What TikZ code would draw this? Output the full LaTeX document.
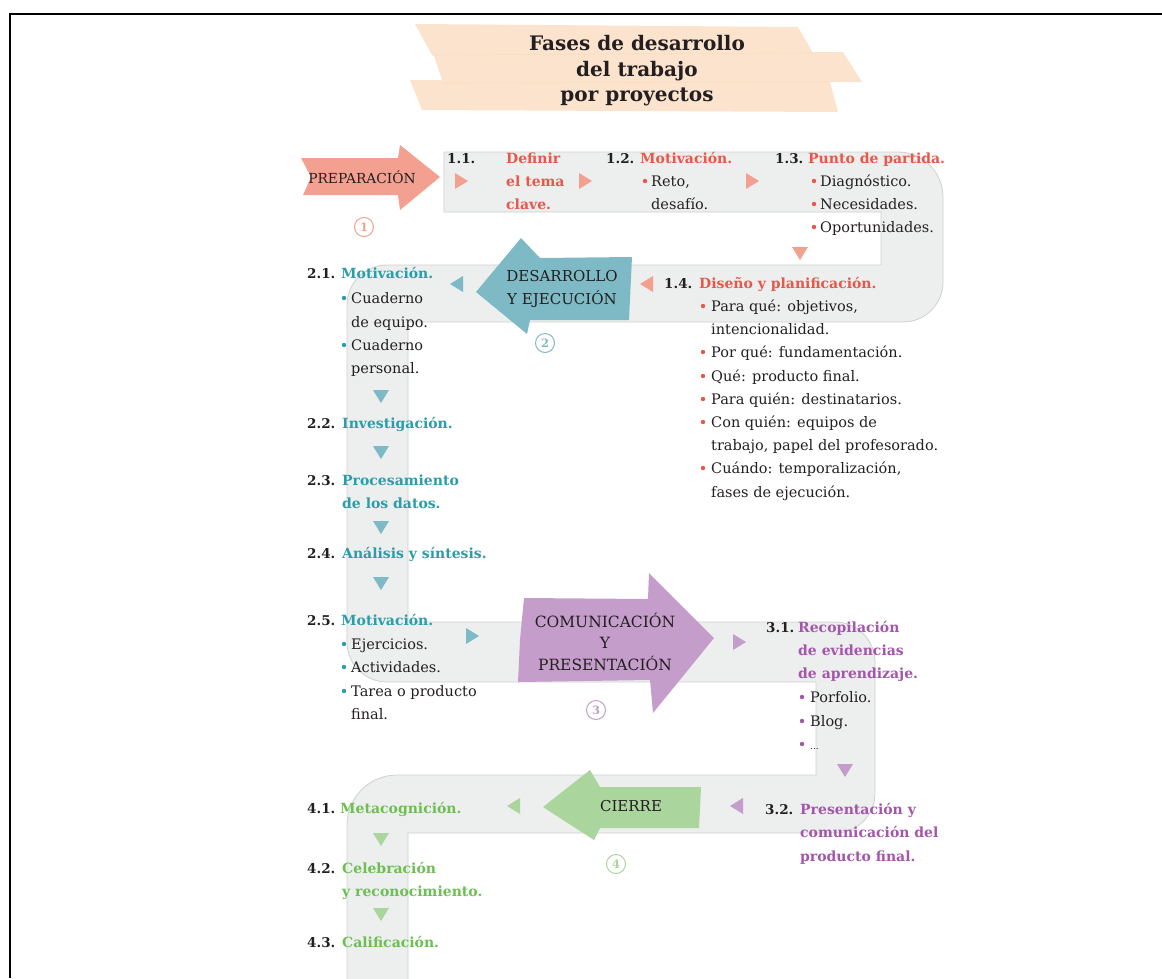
\documentclass[tikz,border=0pt]{standalone}
\usepackage{fontspec}
\setmainfont{DejaVu Serif}
\definecolor{road}{HTML}{EDEEEE}
\definecolor{roadline}{HTML}{CFCFCF}
\definecolor{ink}{HTML}{231F20}
\definecolor{cRed}{HTML}{E9574A}
\definecolor{aRed}{HTML}{F3A090}
\definecolor{cTeal}{HTML}{2B9DAA}
\definecolor{aTeal}{HTML}{7DBAC6}
\definecolor{cPur}{HTML}{A456AC}
\definecolor{aPur}{HTML}{C59DCB}
\definecolor{cGrn}{HTML}{6DBF52}
\definecolor{aGrn}{HTML}{AAD59C}
\definecolor{peach}{HTML}{FBE3CE}
\newcommand\trR[3]{\fill[#1] ({#2-6},{#3-8}) -- ({#2+7},{#3}) -- ({#2-6},{#3+8}) -- cycle;}
\newcommand\trL[3]{\fill[#1] ({#2+6},{#3-8}) -- ({#2-7},{#3}) -- ({#2+6},{#3+8}) -- cycle;}
\newcommand\trD[3]{\fill[#1] ({#2-8},{#3-6}) -- ({#2+8},{#3-6}) -- ({#2},{#3+7}) -- cycle;}
\newcommand\bul[3]{\fill[#1] (#2,#3) circle[radius=2.2];}
\tikzset{
  body/.style={anchor=base west, inner sep=0, text=ink, font=\fontsize{14.5}{17}\selectfont},
  num/.style={anchor=base west, inner sep=0, text=ink, font=\bfseries\fontsize{13.5}{17}\selectfont},
  hd/.style={anchor=base west, inner sep=0, font=\bfseries\fontsize{14}{17}\selectfont},
  ttl/.style={anchor=base, inner sep=0, text=ink, font=\bfseries\fontsize{20}{23}\selectfont},
  lab/.style={anchor=base, inner sep=0, text=ink},
  circnum/.style={circle, draw=#1, text=#1, line width=1pt, inner sep=0, minimum size=19pt, font=\bfseries\fontsize{11.5}{12}\selectfont},
}
\begin{document}
\begin{tikzpicture}[x=1pt,y=-1pt]
\useasboundingbox (0,0) rectangle (1162,978);
% frame
\draw[line width=2.5pt] (10,978) -- (10,14) -- (1162,14);
% title bands
\fill[peach] (415,24) -- (798,27) -- (813,53) -- (432,55) -- cycle;
\fill[peach] (433,53) -- (843,52) -- (862,82) -- (443,83) -- cycle;
\fill[peach] (410,80) -- (830,82) -- (838,112) -- (422,110) -- cycle;
\draw[peach!70!orange!60, line width=0.6pt] (432,55) -- (813,53);
\draw[peach!70!orange!60, line width=0.6pt] (443,83) -- (830,82);
\node[ttl] (title1) at (637,50) {Fases de desarrollo};
\node[ttl] (title2) at (637,76) {del trabajo};
\node[ttl] (title3) at (637,101) {por proyectos};
% road
\filldraw[fill=road, draw=roadline, line width=0.8pt]
  (444,152) -- (898,152) arc[start angle=-90,end angle=0,radius=45]
  -- (943,282) arc[start angle=0,end angle=90,radius=40]
  -- (408,322) -- (408,622)
  -- (835,622) arc[start angle=-90,end angle=0,radius=40]
  -- (875,793) arc[start angle=0,end angle=90,radius=40]
  -- (408,833) -- (408,980) -- (347,980)
  -- (347,825) arc[start angle=180,end angle=270,radius=50]
  -- (816,775) -- (816,682)
  -- (387,682) arc[start angle=90,end angle=180,radius=40]
  -- (347,305) arc[start angle=180,end angle=270,radius=40]
  -- (881,265) -- (881,212) -- (444,212) -- cycle;
% big arrows
\fill[aRed] (301,158) -- (398,158) -- (400,145) -- (440,177) -- (400,210) -- (398,195) -- (303,195) -- (311,177) -- cycle;
\fill[aTeal] (476,292) -- (521,238) -- (540,258) -- (632,257) -- (629,320) -- (530,320) -- (527,334) -- cycle;
\fill[aPur] (524,598) -- (648,599) -- (649,573) -- (714,638) -- (653,713) -- (650,680) -- (518,682) -- (520,640) -- cycle;
\fill[aGrn] (543,807) -- (590,770) -- (600,787) -- (701,787) -- (699,828) -- (600,828) -- (594,840) -- cycle;
\node[lab, font=\fontsize{13.8}{15}\selectfont] (prep) at (362,183) {PREPARACIÓN};
\node[lab, font=\fontsize{15}{15}\selectfont] (des1) at (562,281) {DESARROLLO};
\node[lab, font=\fontsize{15}{15}\selectfont] (des2) at (562,304) {Y EJECUCIÓN};
\node[lab, font=\fontsize{15.5}{15}\selectfont] (com1) at (605,627) {COMUNICACIÓN};
\node[lab, font=\fontsize{15.5}{15}\selectfont] (com2) at (605,648) {Y};
\node[lab, font=\fontsize{15.5}{15}\selectfont] (com3) at (605,670) {PRESENTACIÓN};
\node[lab, font=\fontsize{15}{15}\selectfont] (cie) at (631,811) {CIERRE};
% circled numbers
\node[circnum=aRed] (c1) at (364,227) {1};
\node[circnum=aTeal] (c2) at (545,343) {2};
\node[circnum=aPur] (c3) at (596,710) {3};
\node[circnum=aGrn] (c4) at (616,864) {4};
% small triangles
\trR{aRed}{461}{181}
\trR{aRed}{585}{181}
\trR{aRed}{752}{181}
\trD{aRed}{800}{253}
\trL{aRed}{647}{284}
\trL{aTeal}{457}{284}
\trD{aTeal}{381}{396}
\trD{aTeal}{381}{452}
\trD{aTeal}{381}{527}
\trD{aTeal}{381}{583}
\trR{aTeal}{472}{636}
\trR{aPur}{739}{642}
\trD{aPur}{845}{770}
\trL{aPur}{737}{806}
\trL{aGrn}{514}{806}
\trD{aGrn}{381}{839}
\trD{aGrn}{381}{914}
% ---- phase 1
\node[num] (n11) at (447,163) {1.1.};
\node[hd, text=cRed] (h11a) at (506,163) {Definir};
\node[hd, text=cRed] (h11b) at (506,186) {el tema};
\node[hd, text=cRed] (h11c) at (506,209) {clave.};
\node[num] (n12) at (606,163) {1.2.};
\node[hd, text=cRed] (h12) at (640,163) {Motivación.};
\bul{cRed}{645}{181}
\node[body] (b12a) at (651,186) {Reto,};
\node[body] (b12b) at (651,209) {desafío.};
\node[num] (n13) at (775,163) {1.3.};
\node[hd, text=cRed] (h13) at (808,163) {Punto de partida.};
\bul{cRed}{814}{181}
\bul{cRed}{814}{204}
\bul{cRed}{814}{227}
\node[body] (b13a) at (820,186) {Diagnóstico.};
\node[body] (b13b) at (820,209) {Necesidades.};
\node[body] (b13c) at (820,232) {Oportunidades.};
\node[num] (n14) at (664,288) {1.4.};
\node[hd, text=cRed] (h14) at (699,288) {Diseño y planificación.};
\bul{cRed}{703}{306}
\bul{cRed}{703}{352}
\bul{cRed}{703}{376}
\bul{cRed}{703}{399}
\bul{cRed}{703}{422}
\bul{cRed}{703}{468}
\node[body] (b14a) at (711,311) {Para qué: objetivos,};
\node[body] (b14b) at (711,334) {intencionalidad.};
\node[body] (b14c) at (711,357) {Por qué: fundamentación.};
\node[body] (b14d) at (711,381) {Qué: producto final.};
\node[body] (b14e) at (711,404) {Para quién: destinatarios.};
\node[body] (b14f) at (711,427) {Con quién: equipos de};
\node[body] (b14g) at (711,450) {trabajo, papel del profesorado.};
\node[body] (b14h) at (711,473) {Cuándo: temporalización,};
\node[body] (b14i) at (711,497) {fases de ejecución.};
% ---- phase 2
\node[num] (n21) at (307,278) {2.1.};
\node[hd, text=cTeal] (h21) at (341,278) {Motivación.};
\bul{cTeal}{344}{298}
\bul{cTeal}{344}{345}
\node[body] (b21a) at (351,303) {Cuaderno};
\node[body] (b21b) at (351,327) {de equipo.};
\node[body] (b21c) at (351,350) {Cuaderno};
\node[body] (b21d) at (351,373) {personal.};
\node[num] (n22) at (307,428) {2.2.};
\node[hd, text=cTeal] (h22) at (342,428) {Investigación.};
\node[num] (n23) at (307,485) {2.3.};
\node[hd, text=cTeal] (h23a) at (342,485) {Procesamiento};
\node[hd, text=cTeal] (h23b) at (342,508) {de los datos.};
\node[num] (n24) at (307,558) {2.4.};
\node[hd, text=cTeal] (h24) at (342,558) {Análisis y síntesis.};
\node[num] (n25) at (307,625) {2.5.};
\node[hd, text=cTeal] (h25) at (341,625) {Motivación.};
\bul{cTeal}{344}{644}
\bul{cTeal}{344}{667}
\bul{cTeal}{344}{691}
\node[body] (b25a) at (351,649) {Ejercicios.};
\node[body] (b25b) at (351,672) {Actividades.};
\node[body] (b25c) at (351,696) {Tarea o producto};
\node[body] (b25d) at (351,719) {final.};
% ---- phase 3
\node[num] (n31) at (766,632) {3.1.};
\node[hd, text=cPur] (h31a) at (798,632) {Recopilación};
\node[hd, text=cPur] (h31b) at (798,655) {de evidencias};
\node[hd, text=cPur] (h31c) at (798,678) {de aprendizaje.};
\bul{cPur}{802}{697}
\bul{cPur}{802}{721}
\bul{cPur}{802}{744}
\node[body] (b31a) at (810,702) {Porfolio.};
\node[body] (b31b) at (810,726) {Blog.};
\node[body, font=\fontsize{9}{10}\selectfont] (b31c) at (810,749) {...};
\node[num] (n32) at (765,814) {3.2.};
\node[hd, text=cPur] (h32a) at (800,814) {Presentación y};
\node[hd, text=cPur] (h32b) at (800,837) {comunicación del};
\node[hd, text=cPur] (h32c) at (800,861) {producto final.};
% ---- phase 4
\node[num] (n41) at (307,813) {4.1.};
\node[hd, text=cGrn] (h41) at (340,813) {Metacognición.};
\node[num] (n42) at (307,873) {4.2.};
\node[hd, text=cGrn] (h42a) at (342,873) {Celebración};
\node[hd, text=cGrn] (h42b) at (342,896) {y reconocimiento.};
\node[num] (n43) at (307,947) {4.3.};
\node[hd, text=cGrn] (h43) at (342,947) {Calificación.};
\end{tikzpicture}
\end{document}
